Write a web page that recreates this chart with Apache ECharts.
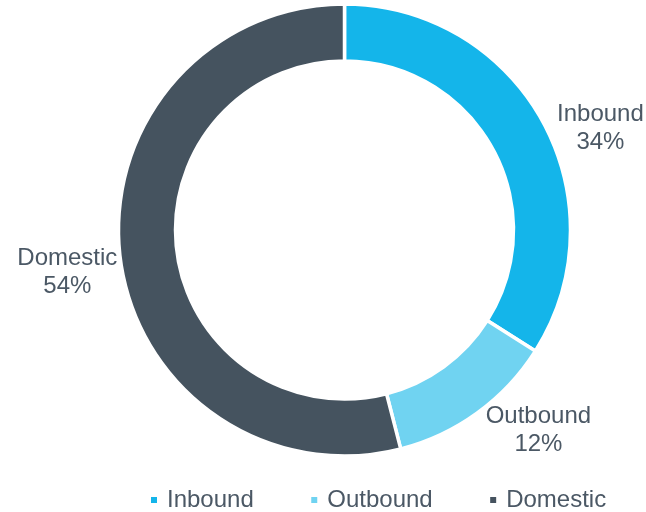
<!DOCTYPE html>
<html>
<head>
<meta charset="utf-8">
<script src="https://cdn.jsdelivr.net/npm/echarts@6/dist/echarts.min.js"></script>
<style>
  html, body { margin: 0; padding: 0; background: #ffffff; }
  #chart { width: 646px; height: 512px; }
</style>
</head>
<body>
<div id="chart"></div>
<script>
// Travel segments and their share of the total (percent)
var categories = ['Inbound', 'Outbound', 'Domestic'];
var shares = [34, 12, 54];
var colors = ['#14b5ea', '#70d3f1', '#45535f'];

var textColor = '#4b5865';
var fontFamily = '"Liberation Sans", Arial, sans-serif';

var chart = echarts.init(document.getElementById('chart'), null, { renderer: 'canvas' });

var data = categories.map(function (name, i) {
  return { name: name, value: shares[i], itemStyle: { color: colors[i] } };
});

// small nudges so each label sits just outside its slice
function nudgeLabel(params) {
  var shift = [[-2, 9], [-7, 14], [14, 14]][params.dataIndex] || [0, 0];
  return { dx: shift[0], dy: shift[1] };
}

chart.setOption({
  animation: false,
  backgroundColor: '#ffffff',
  textStyle: { fontFamily: fontFamily },
  legend: {
    data: categories,
    left: 144,
    top: 483,
    icon: 'rect',
    itemWidth: 8,
    itemHeight: 8,
    itemGap: 55.5,
    textStyle: {
      fontFamily: fontFamily,
      fontSize: 24,
      color: textColor,
      padding: [0, 0, 0, 4]
    }
  },
  series: [{
    type: 'pie',
    center: [344.5, 230],
    radius: [169, 226],
    startAngle: 90,
    clockwise: true,
    avoidLabelOverlap: false,
    itemStyle: { borderColor: '#ffffff', borderWidth: 3.5 },
    label: {
      show: true,
      position: 'outside',
      formatter: '{a|{b}}\n{a|{c}%}',
      rich: {
        a: {
          fontFamily: fontFamily,
          fontSize: 24,
          lineHeight: 28,
          color: textColor,
          align: 'center'
        }
      }
    },
    labelLine: { show: false, length: 4, length2: 8 },
    labelLayout: nudgeLabel,
    emphasis: { disabled: true },
    data: data
  }]
});
</script>
</body>
</html>
